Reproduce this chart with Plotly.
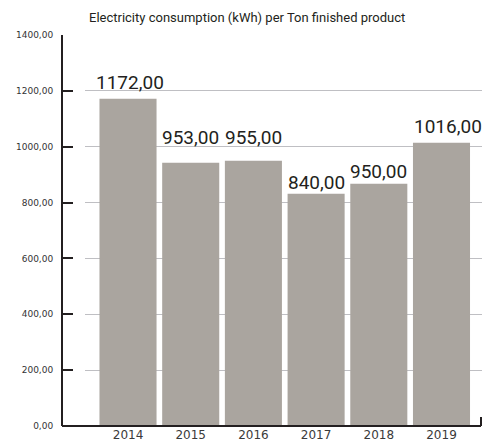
import plotly.graph_objects as go

years = ["2014", "2015", "2016", "2017", "2018", "2019"]
bar_values = [1172, 943, 950, 832, 867, 1014]
label_values = [1172.00, 953.00, 955.00, 840.00, 950.00, 1016.00]
y_ticks = [0, 200, 400, 600, 800, 1000, 1200, 1400]
title_text = "Electricity consumption (kWh) per Ton finished product"

label_yshift = [3, 12, 10, -2, -1, 3]
label_xshift = [2, 0, 0, 0, 0, 6]

DARK = "#231f20"

fig = go.Figure()
fig.add_trace(go.Bar(
    x=years, y=bar_values,
    marker=dict(color="#aaa59f", line=dict(width=0)),
    text=[f"{v:.2f}".replace(".", ",") for v in label_values],
    textposition="none",
    hoverinfo="skip",
))
# invisible trace to carry the free y-axis (line, ticks, labels)
fig.add_trace(go.Scatter(x=years, y=bar_values, yaxis="y2", mode="markers",
                         marker=dict(opacity=0), hoverinfo="skip", showlegend=False))

for i, (v, lab) in enumerate(zip(bar_values, label_values)):
    fig.add_annotation(
        x=i, y=v, xref="x", yref="y",
        text=f"{lab:.2f}".replace(".", ","),
        showarrow=False, yanchor="bottom", xanchor="center",
        yshift=label_yshift[i], xshift=label_xshift[i],
        font=dict(family="Roboto", size=19, color=DARK),
    )

fig.add_annotation(
    x=(87 - 62) / 420, y=1 + (35 - 17.5) / 391, xref="paper", yref="paper",
    text=title_text, showarrow=False, xanchor="left", yanchor="middle",
    font=dict(family="Roboto", size=13, color=DARK),
)

# bottom axis line with right end tick
fig.add_shape(type="line", xref="paper", yref="paper", x0=0, x1=(481 - 62) / 420,
              y0=0, y1=0, line=dict(color=DARK, width=2))
fig.add_shape(type="line", xref="paper", yref="paper", x0=(481 - 62) / 420, x1=(481 - 62) / 420,
              y0=0, y1=9 / 391, line=dict(color=DARK, width=2))

fig.update_layout(
    width=489, height=448,
    margin=dict(l=62, r=7, t=35, b=22),
    plot_bgcolor="white", paper_bgcolor="white",
    separators=",.",
    bargap=0.09,
    showlegend=False,
    xaxis=dict(
        type="category",
        domain=[(85 - 62) / 420, 1],
        range=[-0.686, 5.646],
        showgrid=False, showline=False, zeroline=False,
        ticks="", tickfont=dict(family="DejaVu Sans", size=12, color="#3a3a3a"),
    ),
    yaxis=dict(
        range=[0, 1400],
        tickvals=y_ticks,
        showticklabels=False, showline=False, ticks="",
        showgrid=True, gridcolor="#bfbfc3", gridwidth=1.3,
        zeroline=False,
    ),
    yaxis2=dict(
        overlaying="y", anchor="free", position=0, side="left",
        range=[0, 1400],
        tickvals=y_ticks, tickformat=".2f",
        showline=True, linecolor=DARK, linewidth=2,
        ticks="inside", ticklen=10, tickwidth=2, tickcolor=DARK,
        ticklabelstandoff=6,
        showgrid=False, zeroline=False,
        tickfont=dict(family="DejaVu Sans", size=9, color="#333333"),
    ),
)

fig.write_html("out.html")
